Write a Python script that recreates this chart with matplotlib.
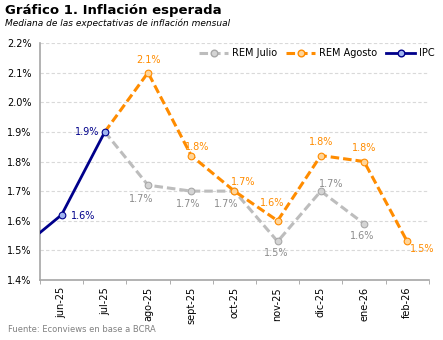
import matplotlib.pyplot as plt
from matplotlib.lines import Line2D

months = ["jun-25", "jul-25", "ago-25", "sept-25", "oct-25", "nov-25", "dic-25", "ene-26", "feb-26"]

# IPC observado (may-25 queda fuera del rango visible)
ipc_x = [-1, 0, 1]
ipc = [1.50, 1.62, 1.90]

# REM de julio y de agosto, ambos parten del último dato observado (jul-25)
rem_jul_x = [1, 2, 3, 4, 5, 6, 7]
rem_jul = [1.90, 1.72, 1.70, 1.70, 1.53, 1.70, 1.59]

rem_ago_x = [1, 2, 3, 4, 5, 6, 7, 8]
rem_ago = [1.90, 2.10, 1.82, 1.70, 1.60, 1.82, 1.80, 1.53]

gray = "#bdbdbd"
orange = "#ff8c00"
navy = "#00008b"

fig = plt.figure(figsize=(4.43, 3.40), dpi=100)
ax = fig.add_axes([0.0903, 0.1765, 0.8777, 0.697])

dash = (0, (2.8, 1.3))
ms = 4.8
ax.plot(rem_jul_x, rem_jul, color=gray, lw=2.2, ls=dash, zorder=2)
ax.plot(rem_jul_x[1:], rem_jul[1:], ls="none", marker="o", ms=ms,
        mfc="#d4d4d4", mec="#a8a8a8", mew=0.8, zorder=3)
ax.plot(rem_ago_x, rem_ago, color=orange, lw=2.2, ls=dash, zorder=4)
ax.plot(rem_ago_x[1:], rem_ago[1:], ls="none", marker="o", ms=ms,
        mfc="#ffd59a", mec=orange, mew=0.8, zorder=5)
ax.plot(ipc_x, ipc, color=navy, lw=2.0, zorder=6)
ax.plot(ipc_x[1:], ipc[1:], ls="none", marker="o", ms=ms,
        mfc="#9fb4f0", mec=navy, mew=0.8, zorder=7)

fs = 7
# etiquetas REM Agosto: (dx, dy) en puntos
ago_off = [None, (0, 9), (4.5, 6.5), (6.5, 6.5), (-4, 13), (0, 9.5), (0, 9.5), (11, -5.5)]
for x, v, off in zip(rem_ago_x, rem_ago, ago_off):
    if off is None:
        continue
    ax.annotate(f"{v:.1f}%", (x, v), xytext=off, textcoords="offset points",
                ha="center", va="center", color=orange, fontsize=fs)

jul_off = [None, (-5, -10), (-2, -9.5), (-6, -9.5), (-1, -8.5), (7.5, 5), (-1.5, -8.5)]
for x, v, off in zip(rem_jul_x, rem_jul, jul_off):
    if off is None:
        continue
    ax.annotate(f"{v:.1f}%", (x, v), xytext=off, textcoords="offset points",
                ha="center", va="center", color="#8c8c8c", fontsize=fs)

ax.annotate(f"{ipc[1]:.1f}%", (ipc_x[1], ipc[1]), xytext=(7, -1),
            textcoords="offset points", ha="left", va="center", color=navy, fontsize=fs)
ax.annotate(f"{ipc[2]:.1f}%", (ipc_x[2], ipc[2]), xytext=(-4, 0),
            textcoords="offset points", ha="right", va="center", color=navy, fontsize=fs)

ax.set_xlim(-0.5, len(months) - 0.5)
ax.set_ylim(1.4, 2.2)
ax.set_yticks([1.4 + 0.1 * i for i in range(9)])
ax.set_yticklabels([f"{1.4 + 0.1 * i:.1f}%" for i in range(9)], fontsize=7)
ax.set_xticks(range(len(months)))
ax.set_xticklabels(months, rotation=90, fontsize=7)
ax.set_xticks([i - 0.5 for i in range(len(months) + 1)], minor=True)
ax.tick_params(axis="x", which="major", length=0, pad=5)
ax.tick_params(axis="x", which="minor", length=3, color="#a0a0a0")
ax.tick_params(axis="y", length=0, pad=6)

ax.grid(axis="y", color="#d9d9d9", ls=(0, (3, 2)), lw=0.8)
ax.set_axisbelow(True)
for s in ["top", "right"]:
    ax.spines[s].set_visible(False)
for s in ["left", "bottom"]:
    ax.spines[s].set_color("#a6a6a6")
    ax.spines[s].set_linewidth(1.2)

handles = [
    Line2D([], [], color=gray, lw=2.2, ls=dash, marker="o", ms=ms,
           mfc="#d4d4d4", mec="#a8a8a8"),
    Line2D([], [], color=orange, lw=2.2, ls=dash, marker="o", ms=ms,
           mfc="#ffd59a", mec=orange),
    Line2D([], [], color=navy, lw=2.0, marker="o", ms=ms, mfc="#9fb4f0", mec=navy),
]
leg = ax.legend(handles, ["REM Julio", "REM Agosto", "IPC"], ncol=3, fontsize=7,
                loc="center right", bbox_to_anchor=(1.035, 0.957), frameon=True,
                facecolor="white", edgecolor="none", framealpha=1,
                handlelength=3.0, columnspacing=0.9, handletextpad=0.4,
                borderpad=0.3)

fig.text(0.012, 0.968, "Gráfico 1. Inflación esperada", fontsize=9.5,
         fontweight="bold", ha="left", va="center")
fig.text(0.012, 0.932, "Mediana de las expectativas de inflación mensual",
         fontsize=6.5, style="italic", ha="left", va="center")
fig.text(0.018, 0.030, "Fuente: Econviews en base a BCRA", fontsize=6,
         color="#808080", ha="left", va="center")

fig.savefig("out.png", dpi=100)
